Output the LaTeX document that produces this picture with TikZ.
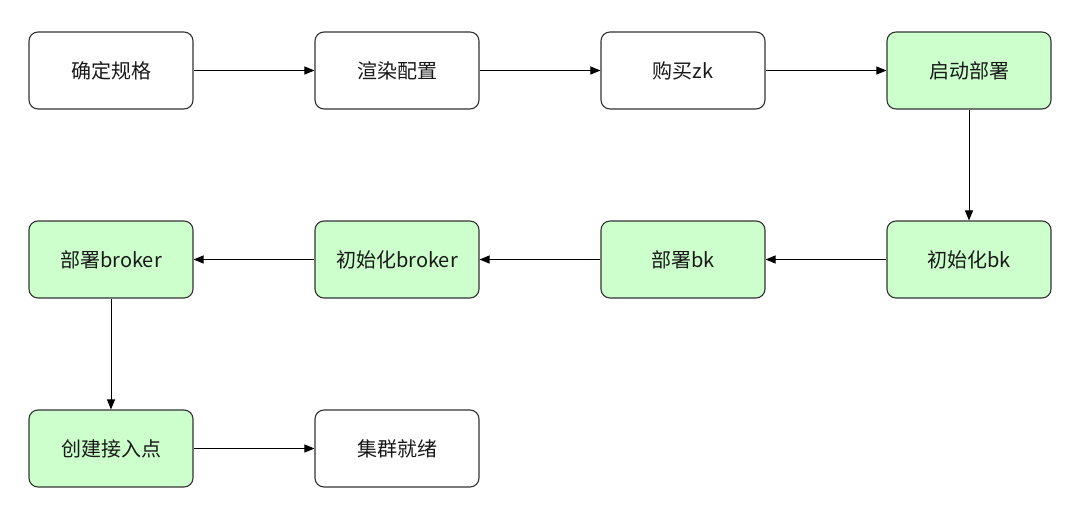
\documentclass[tikz,border=0pt]{standalone}
\usepackage{fontspec}
\setmainfont{Noto Sans CJK SC}
\usetikzlibrary{arrows.meta}
\definecolor{boxgreen}{HTML}{CCFFCC}
\definecolor{edgegray}{HTML}{333333}
\tikzset{
  stepbox/.style={draw=edgegray, line width=1.1pt, rounded corners=9pt, minimum width=164pt, minimum height=77pt, inner sep=0pt, font=\fontsize{20pt}{22pt}\selectfont, text=black!90, fill=white},
  greenbox/.style={stepbox, fill=boxgreen},
  flow/.style={draw=black, line width=1pt, -{Triangle[length=10pt,width=8pt]}},
}
\begin{document}
\begin{tikzpicture}[x=1pt,y=-1pt]
\useasboundingbox (0,0) rectangle (1080,514);
\node[stepbox] (a) at (111,70.5) {确定规格};
\node[stepbox] (b) at (397,70.5) {渲染配置};
\node[stepbox] (c) at (683,70.5) {购买zk};
\node[greenbox] (d) at (969,70.5) {启动部署};
\node[greenbox] (e) at (969,259.5) {初始化bk};
\node[greenbox] (f) at (683,259.5) {部署bk};
\node[greenbox] (g) at (397,259.5) {初始化broker};
\node[greenbox] (h) at (111,259.5) {部署broker};
\node[greenbox] (i) at (111,448.5) {创建接入点};
\node[stepbox] (j) at (397,448.5) {集群就绪};
\draw[flow] (a) -- (b);
\draw[flow] (b) -- (c);
\draw[flow] (c) -- (d);
\draw[flow] (d) -- (e);
\draw[flow] (e) -- (f);
\draw[flow] (f) -- (g);
\draw[flow] (g) -- (h);
\draw[flow] (h) -- (i);
\draw[flow] (i) -- (j);
\end{tikzpicture}
\end{document}
